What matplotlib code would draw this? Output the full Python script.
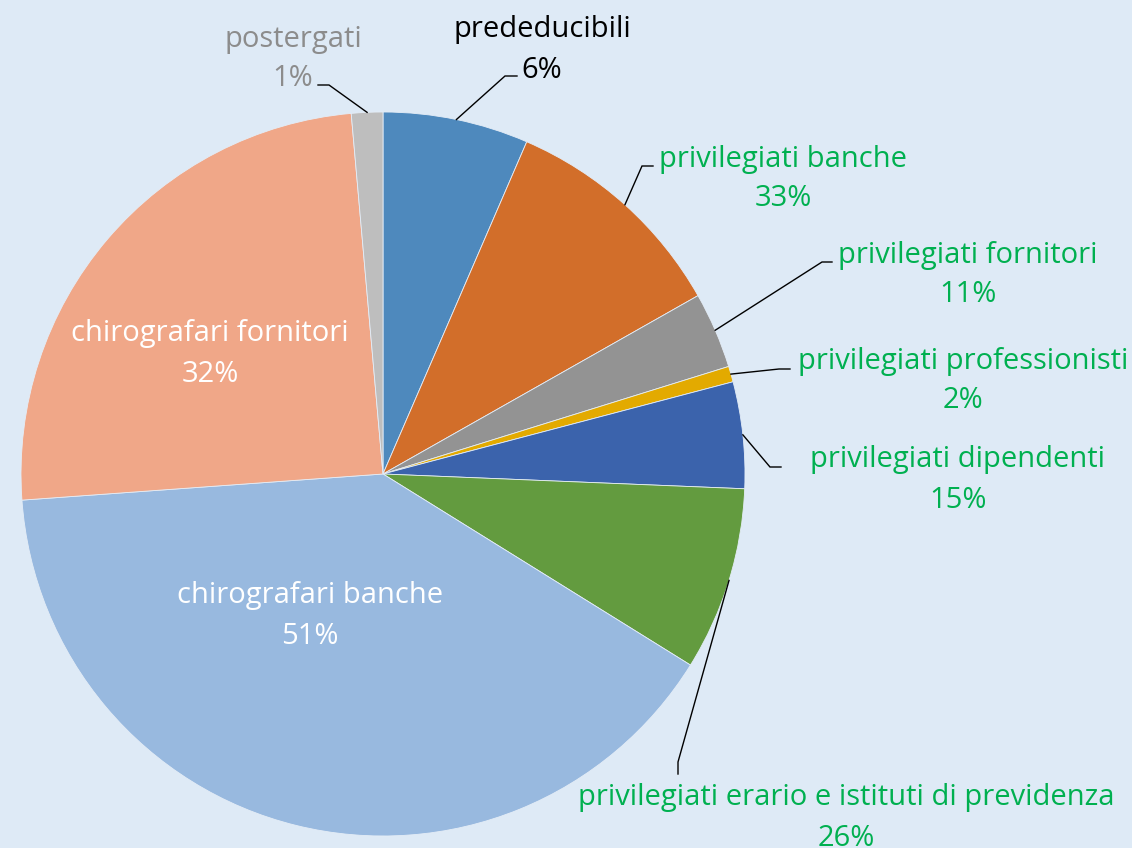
import matplotlib
matplotlib.use("Agg")
import matplotlib.pyplot as plt
import numpy as np

plt.rcParams['font.family'] = ['Open Sans', 'DejaVu Sans']

# ---- data ----
categories = ["prededucibili", "privilegiati banche", "privilegiati fornitori",
              "privilegiati professionisti", "privilegiati dipendenti",
              "privilegiati erario e istituti di previdenza",
              "chirografari banche", "chirografari fornitori", "postergati"]
slice_values = [6.5, 10.3, 3.4, 0.7, 4.75, 8.2, 40.0, 24.75, 1.4]
label_pcts = ["6%", "33%", "11%", "2%", "15%", "26%", "51%", "32%", "1%"]

# ---- style ----
colors = ["#4E89BD", "#D26E2A", "#939393", "#E3AA00", "#3B63AC", "#639B3F",
          "#98B9DF", "#F0A788", "#BEBEBE"]
text_colors = ["#000000", "#00B050", "#00B050", "#00B050", "#00B050", "#00B050",
               "#FFFFFF", "#FFFFFF", "#8C8C8C"]
bg = "#DEEAF6"
W, H = 1132, 848
CX, CY, R = 383, 848 - 474, 362

# label layout (pixel coords from top-left): text centre, elbow point, horizontal end
label_pos = [(542, 50), (783, 179), (968, 275), (963, 381), (958, 480), (846, 818),
             (310, 616), (210, 354), (293, 59)]
elbows = [((505, 76), (517, 76)), ((642, 166), (653, 166)), ((822, 262), (832, 262)),
          ((779, 369), (790, 369)), ((770, 467), (781, 467)), ((678, 762), (678, 774)),
          None, None, ((329, 85), (318, 85))]

fig = plt.figure(figsize=(W / 100, H / 100), dpi=100, facecolor=bg)
ax = fig.add_axes([0, 0, 1, 1])
ax.set_facecolor(bg)

wedges, _ = ax.pie(slice_values, colors=colors, startangle=90, counterclock=False,
                   center=(CX, CY), radius=R,
                   wedgeprops=dict(edgecolor="#E4EDF7", linewidth=0.6))
ax.set_xlim(0, W)
ax.set_ylim(0, H)
ax.set_aspect('equal')
ax.axis('off')

fs = 21
for i, w in enumerate(wedges):
    tx, ty = label_pos[i]
    ax.text(tx, H - ty, f"{categories[i]}\n{label_pcts[i]}", ha='center', va='center',
            fontsize=fs, color=text_colors[i], linespacing=1.5)
    if elbows[i] is not None:
        mid = np.deg2rad((w.theta1 + w.theta2) / 2)
        sx, sy = CX + R * np.cos(mid), CY + R * np.sin(mid)
        (ex, ey), (hx, hy) = elbows[i]
        ax.plot([sx, ex, hx], [sy, H - ey, H - hy], color="black", lw=1.0,
                solid_joinstyle='miter')

fig.savefig("out.png", dpi=100, facecolor=bg)
